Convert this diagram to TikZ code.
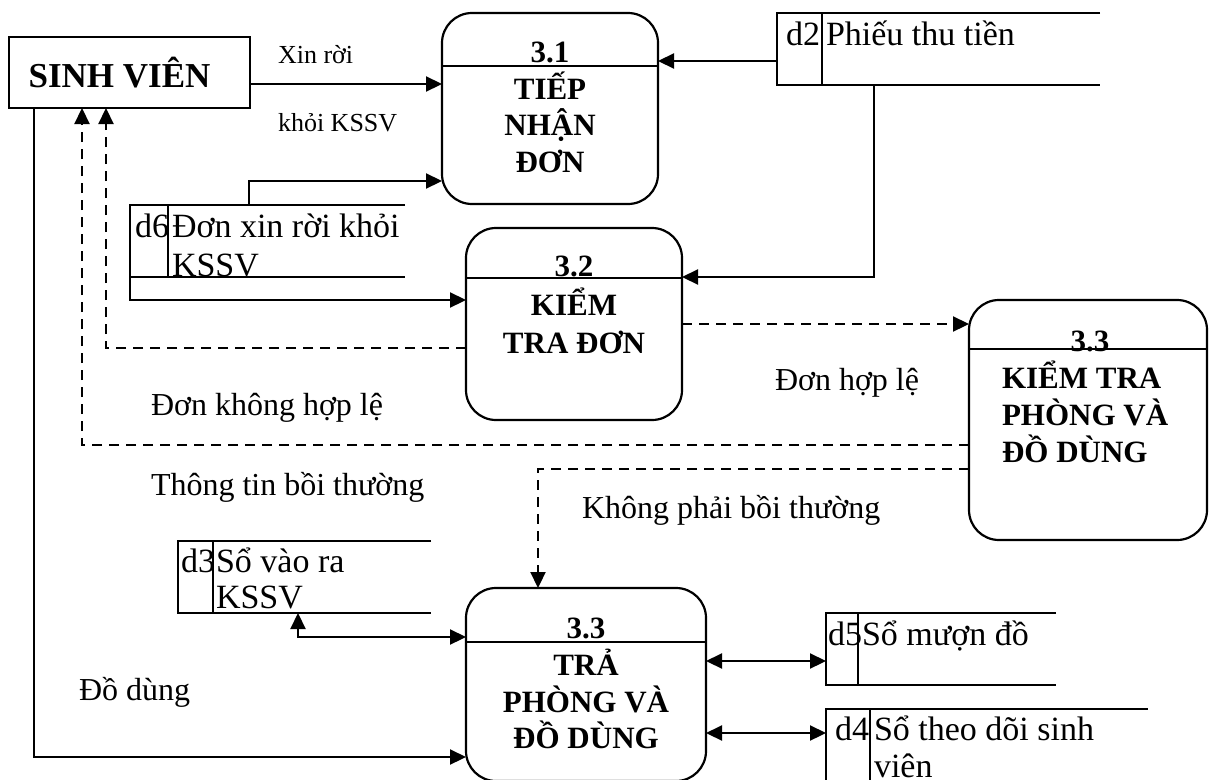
\documentclass[tikz,border=0pt]{standalone}
\usepackage{fontspec}
\setmainfont{Liberation Serif}
\usetikzlibrary{arrows.meta}
\begin{document}
\begin{tikzpicture}[x=1pt,y=-1pt,line width=2.2pt,
  every node/.style={inner sep=0pt,outer sep=0pt},
  tip/.tip={Triangle[length=16pt 0 0,width=15pt 0 0]},
  arr/.style={-tip},
  darr/.style={tip-tip},
  dsh/.style={dash pattern=on 10pt off 7pt},
  proc/.style={draw,rounded corners=30pt},
  divline/.style={line width=1.6pt},
  store/.style={},
  ptxt/.style={anchor=base,font=\bfseries\fontsize{31}{36}\selectfont},
  ptxtl/.style={anchor=base west,font=\bfseries\fontsize{31}{36}\selectfont},
  stxt/.style={anchor=base west,font=\fontsize{34}{40}\selectfont},
  lbl/.style={anchor=base west,font=\fontsize{32}{38}\selectfont},
  slbl/.style={anchor=base west,font=\fontsize{26}{30}\selectfont}]
\clip (0,0) rectangle (1209,779);

% external entity
\node[draw,minimum width=241pt,minimum height=71pt,font=\bfseries\fontsize{35}{40}\selectfont] (sv) at (129.5,72.5) {SINH VIÊN\hspace*{20pt}};

% processes
\node[proc,minimum width=216pt,minimum height=191pt] (p31) at (550,108.5) {};
\draw[divline] (p31.west |- 0,66) -- (p31.east |- 0,66);
\node[ptxt] (p31n) at (550,62) {3.1};
\node[ptxt] (p31a) at (550,99) {TIẾP};
\node[ptxt] (p31b) at (550,135) {NHẬN};
\node[ptxt] (p31c) at (550,172) {ĐƠN};

\node[proc,minimum width=216pt,minimum height=192pt] (p32) at (574,324) {};
\draw[divline] (p32.west |- 0,278) -- (p32.east |- 0,278);
\node[ptxt] (p32n) at (574,276) {3.2};
\node[ptxt] (p32a) at (574,315) {KIỂM};
\node[ptxt] (p32b) at (574,353) {TRA ĐƠN};

\node[proc,minimum width=238pt,minimum height=240pt] (p33a) at (1088,420) {};
\draw[divline] (p33a.west |- 0,349) -- (p33a.east |- 0,349);
\node[ptxt] (p33an) at (1090,351) {3.3};
\node[ptxtl] (p33aa) at (1002,388) {KIỂM TRA};
\node[ptxtl] (p33ab) at (1002,425) {PHÒNG VÀ};
\node[ptxtl] (p33ac) at (1002,462) {ĐỒ DÙNG};

\node[proc,minimum width=240pt,minimum height=193pt] (p33b) at (586,684.5) {};
\draw[divline] (p33b.west |- 0,642) -- (p33b.east |- 0,642);
\node[ptxt] (p33bn) at (586,638) {3.3};
\node[ptxt] (p33ba) at (586,675) {TRẢ};
\node[ptxt] (p33bb) at (586,712) {PHÒNG VÀ};
\node[ptxt] (p33bc) at (586,748) {ĐỒ DÙNG};

% data stores
\node[store,minimum width=323pt,minimum height=72pt] (d2) at (938.5,49) {};
\draw (d2.north east) -- (d2.north west) -- (d2.south west) -- (d2.south east);
\draw[divline] (822,0 |- d2.north) -- (822,0 |- d2.south);
\node[stxt] (d2id) at (786,45) {d2};
\node[stxt] (d2t) at (826,45) {Phiếu thu tiền};

\node[store,minimum width=275pt,minimum height=72pt] (d6) at (267.5,241) {};
\draw (d6.north east) -- (d6.north west) -- (d6.south west) -- (d6.south east);
\draw[divline] (168,0 |- d6.north) -- (168,0 |- d6.south);
\node[stxt] (d6id) at (135,237) {d6};
\node[stxt] (d6t) at (172,237) {Đơn xin rời khỏi};
\node[stxt] (d6u) at (172,276) {KSSV};

\node[store,minimum width=253pt,minimum height=72pt] (d3) at (304.5,577) {};
\draw (d3.north east) -- (d3.north west) -- (d3.south west) -- (d3.south east);
\draw[divline] (213,0 |- d3.north) -- (213,0 |- d3.south);
\node[stxt] (d3id) at (181,572) {d3};
\node[stxt] (d3t) at (216,572) {Sổ vào ra};
\node[stxt] (d3u) at (216,608) {KSSV};

\node[store,minimum width=230pt,minimum height=72pt] (d5) at (941,649) {};
\draw (d5.north east) -- (d5.north west) -- (d5.south west) -- (d5.south east);
\draw[divline] (858,0 |- d5.north) -- (858,0 |- d5.south);
\node[stxt] (d5id) at (828,645) {d5};
\node[stxt] (d5t) at (862,645) {Sổ mượn đồ};

\node[store,minimum width=322pt,minimum height=91pt] (d4) at (987,754.5) {};
\draw (d4.south west) -- (d4.north west) -- (d4.north east);
\draw[divline] (870,0 |- d4.north) -- (870,0 |- d4.south);
\node[stxt] (d4id) at (835,740) {d4};
\node[stxt] (d4t) at (874,740) {Sổ theo dõi sinh};
\node[stxt] (d4u) at (874,777) {viên};

% flows
\draw[arr] (sv.east |- 0,84) -- (p31.west |- 0,84);
\draw[arr] (d2.west |- 0,61) -- (p31.east |- 0,61);
\draw[arr] (874,0 |- d2.south) -- (874,277) -- (p32.east |- 0,277);
\draw[arr] (249,0 |- d6.north) -- (249,181) -- (p31.west |- 0,181);
\draw[arr] (d6.south west) -- (130,300) -- (p32.west |- 0,300);
\draw[arr,dsh] (p32.west |- 0,348) -- (106,348) -- (106,0 |- sv.south);
\draw[arr,dsh] (p33a.west |- 0,445) -- (82,445) -- (82,0 |- sv.south);
\draw[arr,dsh] (p32.east |- 0,324) -- (p33a.west |- 0,324);
\draw[arr,dsh] (p33a.west |- 0,469) -- (538,469) -- (538,0 |- p33b.north);
\draw[darr] (298,0 |- d3.south) -- (298,637) -- (p33b.west |- 0,637);
\draw[darr] (p33b.east |- 0,661) -- (d5.west |- 0,661);
\draw[darr] (p33b.east |- 0,733) -- (d4.west |- 0,733);
\draw[arr] (34,0 |- sv.south) -- (34,757) -- (p33b.west |- 0,757);

% flow labels
\node[slbl] (l1) at (278,63) {Xin rời};
\node[slbl] (l2) at (278,131) {khỏi KSSV};
\node[lbl] (l3) at (151,415) {Đơn không hợp lệ};
\node[lbl] (l4) at (775,390) {Đơn hợp lệ};
\node[lbl] (l5) at (151,495) {Thông tin bồi thường};
\node[lbl] (l6) at (582,518) {Không phải bồi thường};
\node[lbl] (l7) at (79,700) {Đồ dùng};
\end{tikzpicture}
\end{document}
